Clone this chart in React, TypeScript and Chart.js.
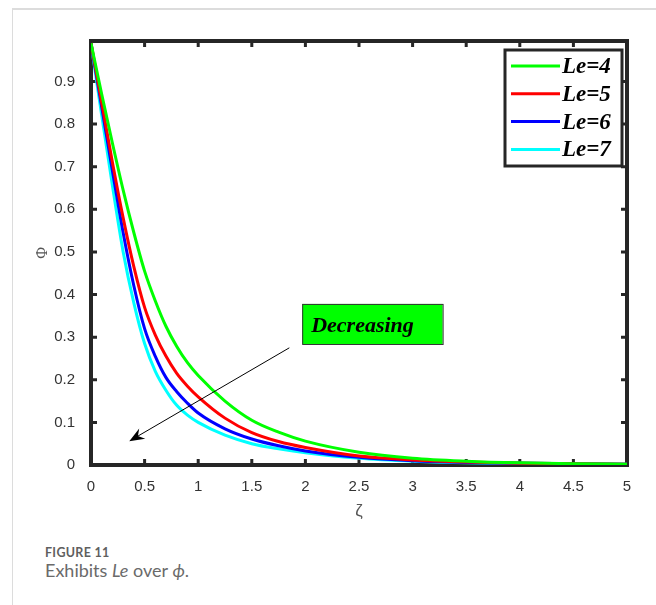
import React, { useEffect, useRef } from "react";
import { Chart, registerables } from "chart.js";
Chart.register(...registerables);

// ---- data ----
const zeta = [0, 0.1, 0.2, 0.3, 0.4, 0.5, 0.6, 0.7, 0.8, 0.9, 1.0, 1.25, 1.5, 1.75, 2.0, 2.5, 3.0, 3.5, 4.0, 4.5, 5.0];
const phiLe4 = [0.99, 0.87, 0.755, 0.645, 0.545, 0.455, 0.385, 0.325, 0.278, 0.24, 0.21, 0.15, 0.105, 0.077, 0.056, 0.03, 0.016, 0.009, 0.005, 0.003, 0.002];
const phiLe5 = [0.99, 0.85, 0.71, 0.58, 0.465, 0.37, 0.305, 0.255, 0.215, 0.185, 0.16, 0.11, 0.076, 0.055, 0.041, 0.021, 0.012, 0.007, 0.004, 0.003, 0.002];
const phiLe6 = [0.99, 0.84, 0.69, 0.545, 0.42, 0.32, 0.255, 0.205, 0.172, 0.145, 0.122, 0.085, 0.061, 0.045, 0.033, 0.018, 0.01, 0.006, 0.004, 0.003, 0.002];
const phiLe7 = [0.99, 0.82, 0.655, 0.5, 0.38, 0.285, 0.22, 0.175, 0.14, 0.117, 0.1, 0.07, 0.05, 0.038, 0.029, 0.016, 0.009, 0.005, 0.004, 0.003, 0.002];
const seriesLabels = ["Le=4", "Le=5", "Le=6", "Le=7"];
const seriesValues = [phiLe4, phiLe5, phiLe6, phiLe7];
const seriesColors = ["#00ff00", "#ff0000", "#0000ff", "#00ffff"];
const xTickValues = [0, 0.5, 1, 1.5, 2, 2.5, 3, 3.5, 4, 4.5, 5];
const yTickValues = [0, 0.1, 0.2, 0.3, 0.4, 0.5, 0.6, 0.7, 0.8, 0.9];
const xTitle = "ζ";
const yTitle = "Φ";
const noteText = "Decreasing";

const FRAME = "#262626";

const framePlugin = {
  id: "frame",
  beforeDatasetsDraw(chart: any) {
    const { ctx, chartArea: a, scales } = chart;
    ctx.save();
    ctx.strokeStyle = FRAME;
    ctx.lineWidth = 3;
    const tl = 6;
    xTickValues.forEach((v) => {
      const x = scales.x.getPixelForValue(v);
      ctx.beginPath();
      ctx.moveTo(x, a.bottom);
      ctx.lineTo(x, a.bottom - tl);
      ctx.moveTo(x, a.top);
      ctx.lineTo(x, a.top + tl);
      ctx.stroke();
    });
    yTickValues.forEach((v) => {
      const y = scales.y.getPixelForValue(v);
      ctx.beginPath();
      ctx.moveTo(a.left, y);
      ctx.lineTo(a.left + tl, y);
      ctx.moveTo(a.right, y);
      ctx.lineTo(a.right - tl, y);
      ctx.stroke();
    });
    ctx.lineWidth = 4;
    ctx.strokeRect(a.left, a.top, a.right - a.left, a.bottom - a.top);
    ctx.restore();
  },
  afterDatasetsDraw(chart: any) {
    const { ctx, scales } = chart;
    const xs = scales.x, ys = scales.y;
    ctx.save();
    // arrow
    const x1 = xs.getPixelForValue(1.85), y1 = ys.getPixelForValue(0.275);
    const x2 = xs.getPixelForValue(0.357), y2 = ys.getPixelForValue(0.056);
    const ang = Math.atan2(y2 - y1, x2 - x1);
    ctx.strokeStyle = "#000";
    ctx.lineWidth = 1;
    ctx.beginPath();
    ctx.moveTo(x1, y1);
    ctx.lineTo(x2 - 8 * Math.cos(ang), y2 - 8 * Math.sin(ang));
    ctx.stroke();
    const L = 15, W = 6, back = 10;
    const px = -Math.sin(ang), py = Math.cos(ang);
    ctx.fillStyle = "#000";
    ctx.beginPath();
    ctx.moveTo(x2, y2);
    ctx.lineTo(x2 - L * Math.cos(ang) + W * px, y2 - L * Math.sin(ang) + W * py);
    ctx.lineTo(x2 - back * Math.cos(ang), y2 - back * Math.sin(ang));
    ctx.lineTo(x2 - L * Math.cos(ang) - W * px, y2 - L * Math.sin(ang) - W * py);
    ctx.closePath();
    ctx.fill();
    // note box
    const bx1 = xs.getPixelForValue(1.97), bx2 = xs.getPixelForValue(3.28);
    const by1 = ys.getPixelForValue(0.378), by2 = ys.getPixelForValue(0.284);
    ctx.fillStyle = "#00ff00";
    ctx.fillRect(bx1, by1, bx2 - bx1, by2 - by1);
    ctx.strokeStyle = "#333";
    ctx.lineWidth = 1;
    ctx.strokeRect(bx1 + 0.5, by1 + 0.5, bx2 - bx1, by2 - by1);
    ctx.fillStyle = "#000";
    ctx.font = "italic bold 22px 'Liberation Serif', 'Times New Roman', serif";
    ctx.textBaseline = "alphabetic";
    ctx.textAlign = "left";
    ctx.fillText(noteText, bx1 + 9, by1 + 28);
    // legend
    const a = chart.chartArea;
    const lx2 = a.right - 5, lx1 = lx2 - 117;
    const ly1 = a.top + 9, ly2 = ly1 + 116;
    ctx.fillStyle = "#fff";
    ctx.fillRect(lx1, ly1, lx2 - lx1, ly2 - ly1);
    ctx.strokeStyle = FRAME;
    ctx.lineWidth = 3;
    ctx.strokeRect(lx1, ly1, lx2 - lx1, ly2 - ly1);
    chart.data.datasets.forEach((ds: any, i: number) => {
      const y = ly1 + 16 + i * 27.8;
      ctx.strokeStyle = ds.borderColor;
      ctx.lineWidth = 3;
      ctx.beginPath();
      ctx.moveTo(lx1 + 6, y);
      ctx.lineTo(lx1 + 55, y);
      ctx.stroke();
      ctx.fillStyle = "#000";
      ctx.font = "italic bold 23px 'Liberation Serif', 'Times New Roman', serif";
      ctx.textBaseline = "middle";
      ctx.fillText(ds.label, lx1 + 57, y + 1);
    });
    ctx.restore();
  },
};

export default function App() {
  const ref = useRef<HTMLCanvasElement>(null);
  useEffect(() => {
    if (!ref.current) return;
    const chart = new Chart(ref.current, {
      type: "line",
      data: {
        datasets: seriesLabels.map((label, i) => ({
          label,
          data: zeta.map((z, j) => ({ x: z, y: seriesValues[i][j] })),
          borderColor: seriesColors[i],
          backgroundColor: seriesColors[i],
          borderWidth: 3,
          pointRadius: 0,
          cubicInterpolationMode: "monotone" as const,
          fill: false,
        })),
      },
      options: {
        animation: false,
        responsive: false,
        layout: { padding: { left: 0, top: 41, right: 29, bottom: 0 } },
        plugins: { legend: { display: false }, tooltip: { enabled: false } },
        scales: {
          x: {
            type: "linear",
            min: 0,
            max: 5,
            grid: { display: false },
            border: { display: false },
            afterBuildTicks: (s: any) => {
              s.ticks = xTickValues.map((v) => ({ value: v }));
            },
            afterFit: (s: any) => {
              s.height = 65;
            },
            ticks: {
              padding: 5,
              color: "#333",
              font: { family: "'Liberation Sans', Arial, sans-serif", size: 15 },
              maxRotation: 0,
              callback: (v: any) => String(v),
            },
            title: {
              display: true,
              text: xTitle,
              color: "#555",
              font: { family: "'Liberation Sans', Arial, sans-serif", size: 17 },
              padding: { top: 0, bottom: 8 },
            },
          },
          y: {
            type: "linear",
            min: 0,
            max: 0.995,
            grid: { display: false },
            border: { display: false },
            afterBuildTicks: (s: any) => {
              s.ticks = yTickValues.map((v) => ({ value: v }));
            },
            afterFit: (s: any) => {
              s.width = 91;
            },
            ticks: {
              padding: 8,
              color: "#333",
              font: { family: "'Liberation Sans', Arial, sans-serif", size: 15 },
              callback: (v: any) => String(v),
            },
            title: {
              display: true,
              text: yTitle,
              color: "#555",
              font: { family: "'Liberation Serif', serif", size: 16 },
              padding: { top: 33, bottom: 0 },
            },
          },
        },
      },
      plugins: [framePlugin],
    } as any);
    return () => chart.destroy();
  }, []);

  return (
    <div style={{ position: "absolute", left: 0, top: 0, width: 656, height: 605, overflow: "hidden", background: "#fff" }}>
      <div
        style={{
          position: "absolute",
          left: 12,
          top: 8,
          width: 700,
          height: 700,
          borderTop: "2px solid #dcdcdc",
          borderLeft: "1px solid #dcdcdc",
        }}
      />
      <canvas ref={ref} width={656} height={530} style={{ position: "absolute", left: 0, top: 0, width: 656, height: 530 }} />
      <div
        style={{
          position: "absolute",
          left: 45,
          top: 547,
          fontFamily: "Lato, 'Open Sans', sans-serif",
          fontSize: 12.5,
          fontWeight: 700,
          lineHeight: 1,
          color: "#5f5f5f",
          letterSpacing: 0.3,
        }}
      >
        FIGURE 11
      </div>
      <div
        style={{
          position: "absolute",
          left: 45,
          top: 561,
          fontFamily: "Lato, 'Open Sans', sans-serif",
          fontSize: 18,
          fontWeight: 400,
          lineHeight: 1,
          color: "#6a6a6a",
        }}
      >
        Exhibits <i>Le</i> over <i>ϕ</i>.
      </div>
    </div>
  );
}
